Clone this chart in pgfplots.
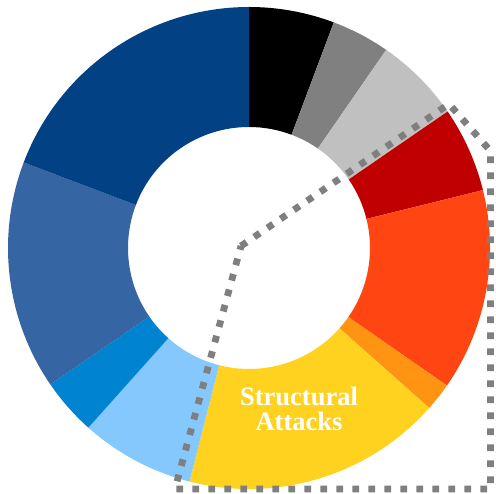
\documentclass[border=0pt]{standalone}
\usepackage{pgfplots}
\usepackage{pgfplotstable}
\pgfplotsset{compat=1.18}
\usepackage{fontspec}
\setmainfont{Liberation Serif}

\definecolor{cBlack}{HTML}{000000}
\definecolor{cDGray}{HTML}{808080}
\definecolor{cLGray}{HTML}{C0C0C0}
\definecolor{cDRed}{HTML}{C00000}
\definecolor{cORed}{HTML}{FF4512}
\definecolor{cOrange}{HTML}{FF9412}
\definecolor{cYellow}{HTML}{FFD220}
\definecolor{cLBlue}{HTML}{85C8FE}
\definecolor{cBlue}{HTML}{0083D1}
\definecolor{cMBlue}{HTML}{3565A3}
\definecolor{cDBlue}{HTML}{024284}
\definecolor{cDash}{HTML}{7F7F7F}

% segment sizes in degrees, clockwise from 12 o'clock
\pgfplotstableread{
deg color
20.6 cBlack
14.1 cDGray
20.8 cLGray
20.6 cDRed
48.7 cORed
6.8 cOrange
62.7 cYellow
27.5 cLBlue
13.7 cBlue
55.3 cMBlue
69.2 cDBlue
}\piedata

\begin{document}
\begin{tikzpicture}
\begin{axis}[
  width=496pt, height=494pt, scale only axis,
  xmin=0, xmax=496, ymin=0, ymax=494,
  hide axis, clip=false,
]
\pgfplotstablegetrowsof{\piedata}
\pgfmathtruncatemacro\N{\pgfplotsretval-1}
\gdef\curang{90}
\pgfplotsforeachungrouped \i in {0,...,\N}{%
  \pgfplotstablegetelem{\i}{deg}\of\piedata
  \let\wv\pgfplotsretval
  \pgfplotstablegetelem{\i}{color}\of\piedata
  \let\wc\pgfplotsretval
  \pgfmathsetmacro\endang{\curang-\wv}%
  \edef\temp{\noexpand\fill[\wc, shift={(axis cs:249,246)}] (\curang:241pt) arc[start angle=\curang, end angle=\endang, radius=241pt] -- (\endang:121pt) arc[start angle=\endang, end angle=\curang, radius=121pt] -- cycle;}%
  \temp
  \global\let\curang\endang
}
\addplot[draw=cDash, line width=6.8pt, dash pattern=on 6.8pt off 9.2pt, line join=miter, mark=none]
  coordinates {(241,248) (449,390) (490.5,343) (490.5,5) (175,5) (241,248)};
\node[font=\bfseries\fontsize{26.5}{25.5}\selectfont, text=white, align=center] at (axis cs:299,85) {Structural\\Attacks};
\end{axis}
\pgfresetboundingbox
\path (current axis.south west) rectangle (current axis.north east);
\end{tikzpicture}
\end{document}
